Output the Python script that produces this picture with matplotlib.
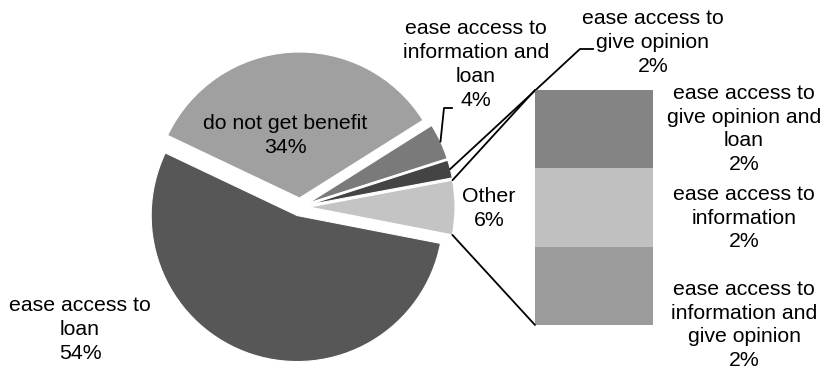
import numpy as np
import matplotlib.pyplot as plt
from matplotlib.patches import ConnectionPatch

plt.rcParams['font.family'] = ['Liberation Sans', 'DejaVu Sans']

# pie: main categories (clockwise from upper left)
pie_labels = ["do not get benefit", "ease access to\ninformation and\nloan",
              "ease access to\ngive opinion", "Other", "ease access to\nloan"]
pie_values = [34, 4, 2, 6, 54]
pie_colors = ["#a0a0a0", "#7a7a7a", "#444444", "#c4c4c4", "#575757"]

# bar: split of "Other" (bottom to top)
bar_labels = ["ease access to\ninformation and\ngive opinion",
              "ease access to\ninformation",
              "ease access to\ngive opinion and\nloan"]
bar_values = [2, 2, 2]
bar_colors = ["#9b9b9b", "#c0c0c0", "#848484"]

W, H = 825, 370
fig = plt.figure(figsize=(W / 100, H / 100), dpi=100)
ax = fig.add_axes([0, 0, 1, 1])

# explode is in data units here (axes data = pixels)
wedges, _ = ax.pie(pie_values, colors=pie_colors, radius=146, center=(300, 163),
                   explode=[9] * len(pie_values), startangle=154.6,
                   counterclock=False,
                   wedgeprops=dict(edgecolor="white", linewidth=0.8))
ax.set_xlim(0, W)
ax.set_ylim(0, H)
ax.set_aspect("equal")
ax.axis("off")

fs = 15.3
ls = 1.32
lw = 1.3
txt = dict(fontsize=fs, ha="center", va="center", linespacing=ls, color="black")


def arc_point(w, frac=0.5):
    a = np.deg2rad(w.theta1 + (w.theta2 - w.theta1) * frac)
    return w.center[0] + w.r * np.cos(a), w.center[1] + w.r * np.sin(a)


def pct(v):
    return "%d%%" % v


# labels on the pie
ax.text(285, H - 135.5, pie_labels[0] + "\n" + pct(pie_values[0]), **txt)
ax.text(80, H - 329.7, pie_labels[4] + "\n" + pct(pie_values[4]), **txt)
ax.text(489, H - 208.5, pie_labels[3] + "\n" + pct(pie_values[3]), **txt)
ax.text(476, H - 64.5, pie_labels[1] + "\n" + pct(pie_values[1]), **txt)
ax.text(653, H - 42.7, pie_labels[2] + "\n" + pct(pie_values[2]), **txt)

# leader lines
p = arc_point(wedges[1])
ax.plot([p[0], 444, 452], [p[1], H - 108, H - 108], color="black", lw=lw)
p = arc_point(wedges[2])
ax.plot([p[0], 580, 593], [p[1], H - 49, H - 49], color="black", lw=lw)

# bar of "Other"
axb = fig.add_axes([535 / W, 45 / H, 118 / W, 235 / H])
bottom = np.concatenate([[0], np.cumsum(bar_values)[:-1]])
axb.bar(0, bar_values, bottom=bottom, width=1.0, color=bar_colors)
axb.set_xlim(-0.5, 0.5)
axb.set_ylim(0, sum(bar_values))
axb.axis("off")

bar_label_y = [325, 218, 129]
for lab, v, y in zip(bar_labels, bar_values, bar_label_y):
    ax.text(744, H - y, lab + "\n" + pct(v), **txt)

# connectors from "Other" slice to the bar
other = wedges[3]
top = arc_point(other, 1.0)
bot = arc_point(other, 0.0)
for xy_bar, xy_pie in [((-0.5, sum(bar_values)), top), ((-0.5, 0), bot)]:
    con = ConnectionPatch(xyA=xy_bar, coordsA=axb.transData,
                          xyB=xy_pie, coordsB=ax.transData,
                          color="black", lw=lw)
    fig.add_artist(con)

fig.savefig("out.png", dpi=100)
